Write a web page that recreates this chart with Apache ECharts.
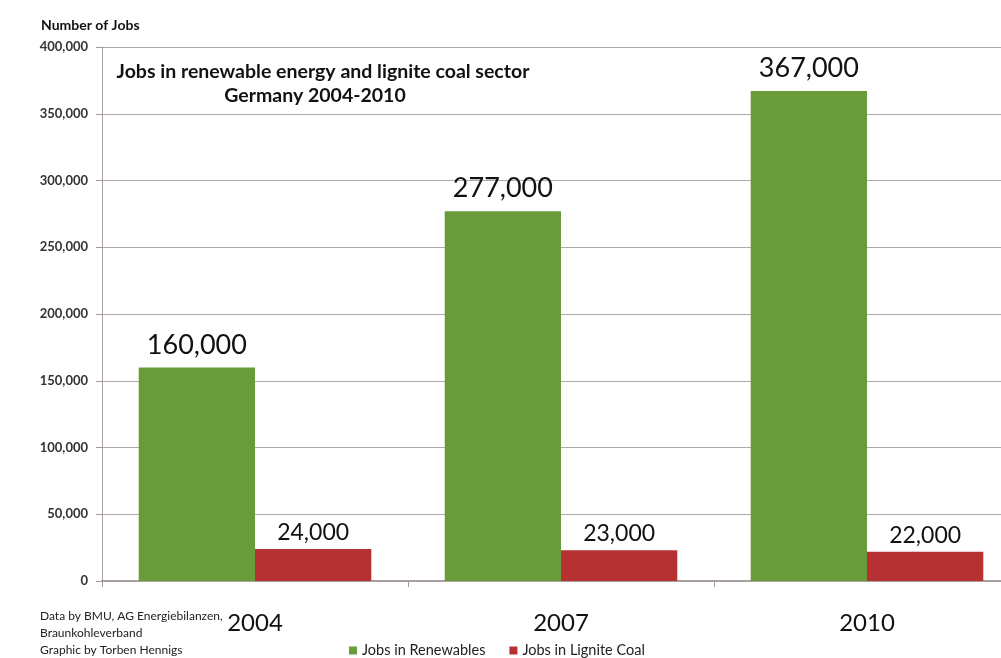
<!DOCTYPE html>
<html><head><meta charset="utf-8">
<script src="https://cdn.jsdelivr.net/npm/echarts@6/dist/echarts.min.js"></script>
<style>html,body{margin:0;padding:0;background:#fff;overflow:hidden;width:1001px;height:658px}#c{width:1020px;height:658px}</style>
</head><body><div id="c"></div>
<script>
const years = ['2004', '2007', '2010'];
const renewables = [160000, 277000, 367000];
const lignite = [24000, 23000, 22000];
const seriesNames = ['Jobs in Renewables', 'Jobs in Lignite Coal'];
const yTicks = { min: 0, max: 400000, interval: 50000 };

const font = 'Lato, "Open Sans", sans-serif';
const fmt = v => v.toLocaleString('en-US');
const chart = echarts.init(document.getElementById('c'));
chart.setOption({
  animation: false,
  backgroundColor: '#fff',
  textStyle: { fontFamily: font },
  title: [
    { text: 'Jobs in renewable energy and lignite coal sector', left: 318, top: 57, textAlign: 'center',
      textStyle: { fontSize: 19.5, fontWeight: 'bold', color: '#111', fontFamily: font } },
    { text: 'Germany 2004-2010', left: 310, top: 81, textAlign: 'center',
      textStyle: { fontSize: 19.5, fontWeight: 'bold', color: '#111', fontFamily: font } },
    { text: 'Number of Jobs', left: 36, top: 13, textStyle: { fontSize: 14, fontWeight: 'bold', color: '#111', fontFamily: font } },
    { text: 'Data by BMU, AG Energiebilanzen,\nBraunkohleverband\nGraphic by Torben Hennigs', left: 35, top: 603,
      textStyle: { fontSize: 12, fontWeight: 'normal', color: '#222', lineHeight: 17, fontFamily: font } }
  ],
  legend: {
    data: seriesNames, left: 344, top: 638, itemWidth: 8, itemHeight: 8, itemGap: 24,
    icon: 'rect', textStyle: { fontSize: 14.5, color: '#222', fontFamily: font }
  },
  grid: { left: 102, top: 47, bottom: 77, right: 0, containLabel: false },
  xAxis: {
    type: 'category', data: years, offset: 5,
    axisLine: { lineStyle: { color: '#a8a0a0', width: 2 } },
    axisTick: { show: true, length: 6, lineStyle: { color: '#a09a9a' } },
    axisLabel: { fontSize: 24, color: '#111', margin: 25, fontFamily: font }
  },
  yAxis: {
    type: 'value', min: yTicks.min, max: yTicks.max, interval: yTicks.interval,
    axisLine: { show: true, lineStyle: { color: '#a8a0a0' } },
    axisTick: { show: true, length: 6, lineStyle: { color: '#a09a9a' } },
    splitLine: { lineStyle: { color: '#b3a8a6', width: 1.2 } },
    axisLabel: { fontSize: 13, fontWeight: 'bold', color: '#333', margin: 14, formatter: fmt, fontFamily: font }
  },
  series: [
    { name: seriesNames[0], type: 'bar', data: renewables, barGap: '0%', barCategoryGap: '24%',
      itemStyle: { color: '#6a9b3a' },
      label: { show: true, position: 'top', distance: 9, fontSize: 27, color: '#111', formatter: p => fmt(p.value), fontFamily: font } },
    { name: seriesNames[1], type: 'bar', data: lignite, barGap: '0%', barCategoryGap: '24%',
      itemStyle: { color: '#b63232' },
      label: { show: true, position: 'top', distance: 5, fontSize: 23, color: '#111', formatter: p => fmt(p.value), fontFamily: font } }
  ]
});
</script></body></html>
